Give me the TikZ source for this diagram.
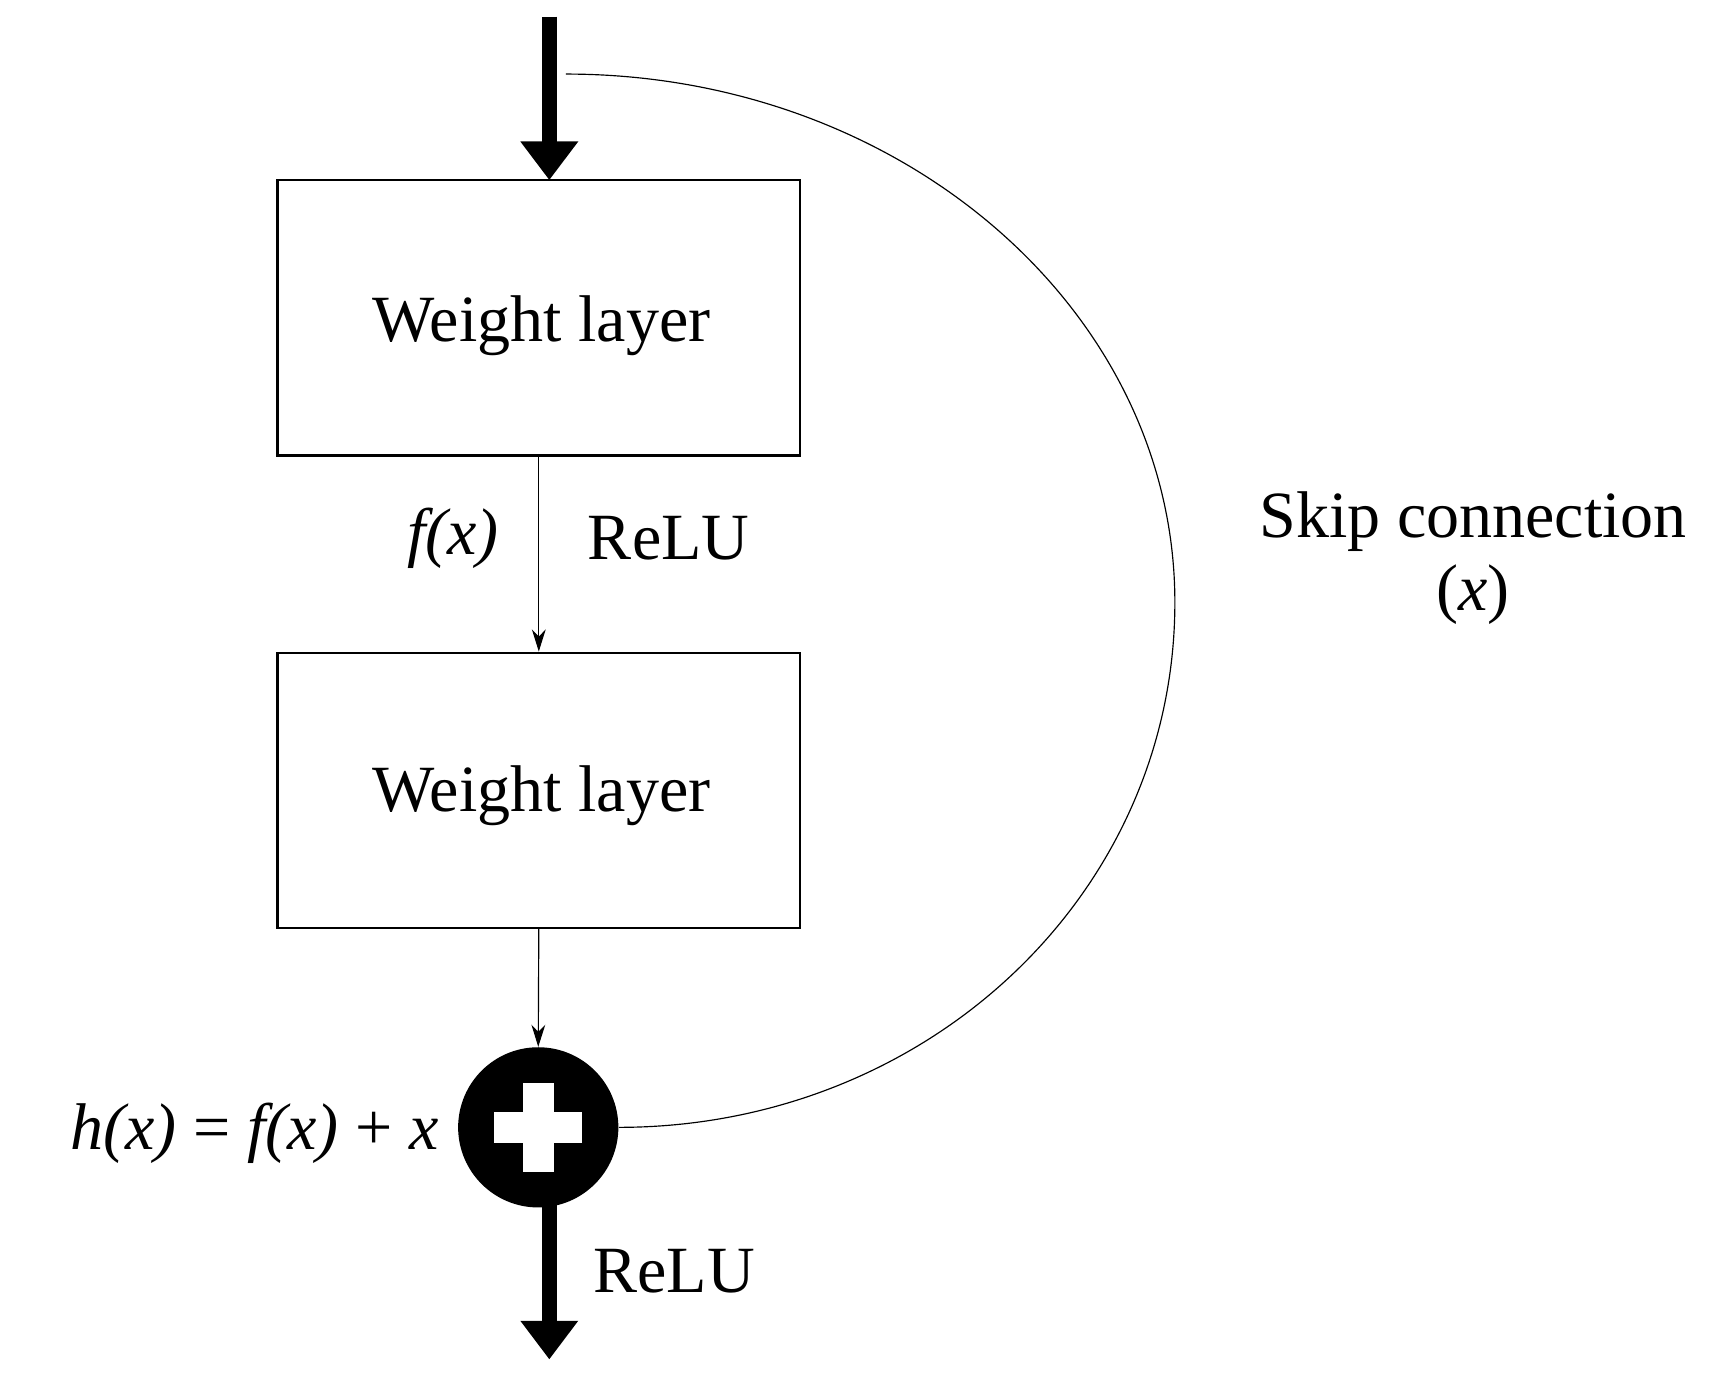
\documentclass[tikz,border=0pt]{standalone}
\usepackage{fontspec}
\setmainfont{Liberation Serif}
\usetikzlibrary{arrows.meta}
\begin{document}
\begin{tikzpicture}[x=0.02cm,y=-0.02cm,
  box/.style={draw,line width=1.2pt,minimum width=9.46cm,minimum height=4.98cm,inner sep=0pt},
  lbl/.style={font=\fontsize{34}{40}\selectfont,inner sep=0pt},
  thick arr/.style={line width=14*0.02cm,-{Triangle[length=0.7cm,width=1.0cm]}},
  thin arr/.style={line width=0.6pt,-{Stealth[length=0.4cm,width=0.25cm]}}]
\useasboundingbox (0,0) rectangle (1568,1252);
\node[box] (b1) at (487.5,287.5) {};
\node[lbl] (t1) at (490,295) {Weight layer};
\node[box] (b2) at (487.5,715) {};
\node[lbl] (t2) at (490,720) {Weight layer};
\coordinate (top) at (497,15);
\coordinate (b1t) at (497,163);
\draw[thick arr] (top) -- (b1t);
\draw[thin arr] (b1.south) -- (b2.north);
\node[lbl] (fx) at (410,487) {\textit{f(x)}};
\node[lbl] (r1) at (605,487) {ReLU};
\node[circle,fill=black,minimum size=2.9cm,inner sep=0pt] (sum) at (487,1020) {};
\fill[white] (473,980) rectangle (501,1060);
\fill[white] (447,1006) rectangle (527,1034);
\draw[thin arr] (b2.south) -- (sum.north);
\node[lbl,anchor=east] (hx) at (397,1025) {\textit{h(x)} = \textit{f(x)} + \textit{x}};
\coordinate (bot) at (497,1230);
\draw[thick arr] (497,1088) -- (bot);
\node[lbl] (r2) at (610,1150) {ReLU};
\coordinate (s0) at (512,67);
\coordinate (s1) at (1063,545);
\draw[line width=0.6pt] (s0) .. controls (816,67) and (1063,281) .. (s1)
   .. controls (1063,809) and (839,1020) .. (sum.east);
\node[lbl,align=center] (skip) at (1333,505) {Skip connection\\[-2pt](\textit{x})};
\end{tikzpicture}
\end{document}
